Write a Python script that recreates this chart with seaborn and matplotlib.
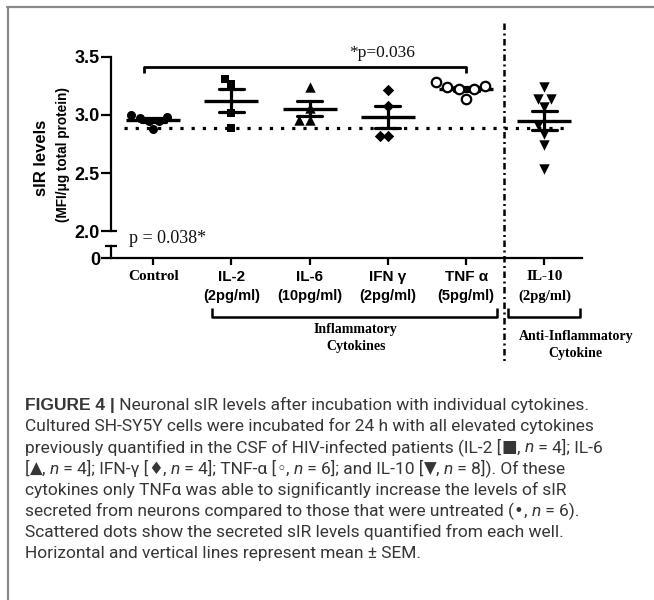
import re
import numpy as np
import pandas as pd
import matplotlib
matplotlib.use("Agg")
import matplotlib.pyplot as plt
import seaborn as sns
from matplotlib.lines import Line2D
from matplotlib.transforms import blended_transform_factory as blend

# ---------------- data ----------------
categories = ["Control", "IL-2", "IL-6", "IFN γ", "TNF α", "IL-10"]
doses = ["", "(2pg/ml)", "(10pg/ml)", "(2pg/ml)", "(5pg/ml)", "(2pg/ml)"]
control = [2.98, 3.00, 2.95, 2.88, 2.95, 2.97]
il2 = [3.31, 3.27, 3.02, 2.89]
il6 = [3.24, 3.06, 2.96, 2.96]
ifng = [3.21, 3.08, 2.82, 2.82]
tnfa = [3.25, 3.28, 3.24, 3.22, 3.14, 3.22]
il10 = [3.24, 3.14, 3.14, 3.07, 2.91, 2.84, 2.74, 2.54]
markers = ["o", "s", "^", "D", "o", "v"]
marker_sizes = [6.5, 5.6, 7.5, 5.8, 6.8, 7.5]
open_groups = ["TNF α"]
baseline = 2.89
yticks = [2.0, 2.5, 3.0, 3.5]
ytick_labels = ["2.0", "2.5", "3.0", "3.5"]
sig_text = "*p=0.036"
p_text = "p = 0.038*"
group_texts = ["Inflammatory\nCytokines", "Anti-Inflammatory\nCytokine"]
ylabel1 = "sIR levels"
ylabel2 = "(MFI/μg total protein)"
caption = [
    "**FIGURE 4 |** Neuronal sIR levels after incubation with individual cytokines.",
    "Cultured SH-SY5Y cells were incubated for 24 h with all elevated cytokines",
    "previously quantified in the CSF of HIV-infected patients (IL-2 [■, *n* = 4]; IL-6",
    "[▲, *n* = 4]; IFN-γ [♦, *n* = 4]; TNF-α [◦, *n* = 6]; and IL-10 [▼, *n* = 8]). Of these",
    "cytokines only TNFα was able to significantly increase the levels of sIR",
    "secreted from neurons compared to those that were untreated (•, *n* = 6).",
    "Scattered dots show the secreted sIR levels quantified from each well.",
    "Horizontal and vertical lines represent mean ± SEM.",
]

values = [control, il2, il6, ifng, tnfa, il10]
df = pd.DataFrame({
    "group": np.repeat(categories, [len(v) for v in values]),
    "value": np.concatenate(values),
})

# ---------------- layout helpers ----------------
sns.set_theme(style="ticks")
plt.rcParams["font.family"] = ["Liberation Sans", "DejaVu Sans"]
W, H = 654, 600
fig = plt.figure(figsize=(W / 100, H / 100), dpi=100)
fig.patch.set_facecolor("white")

def fx(px):
    return px / W

def fy(py):
    return 1 - py / H

AX_L, AX_R = 111, 582
ax = fig.add_axes([fx(AX_L), fy(231.5), fx(AX_R) - fx(AX_L), (231.5 - 56.7) / H])
axb = fig.add_axes([fx(AX_L), fy(258.3), fx(AX_R) - fx(AX_L), (258.3 - 246.5) / H])
for a in (ax, axb):
    a.set_facecolor("none")

XLIM = (-0.54, 5.48)

# ---------------- points ----------------
for cat, m, ms in zip(categories, markers, marker_sizes):
    sub = df[df["group"] == cat]
    is_open = cat in open_groups
    sns.swarmplot(data=sub, x="group", y="value", order=categories,
                  marker=m, size=ms,
                  color="white" if is_open else "black",
                  edgecolor="black", linewidth=1.6 if is_open else 0,
                  ax=ax, zorder=4 if is_open else 3)

# mean +- SEM
sns.pointplot(data=df, x="group", y="value", order=categories,
              errorbar="se", capsize=0.32, color="black",
              linestyle="none", marker="_", markersize=39,
              markeredgewidth=2.4, err_kws={"linewidth": 2.3},
              ax=ax, zorder=3.5)

ax.set_xlim(*XLIM)
ax.set_ylim(2.0, 3.5)
ax.set_xlabel("")
ax.set_ylabel("")
ax.set_yticks(yticks)
ax.set_yticklabels(ytick_labels)
ax.tick_params(axis="x", bottom=False, labelbottom=False)
ax.tick_params(axis="y", length=7, width=1.6, labelsize=13, pad=1, colors="black")
for lab in ax.get_yticklabels():
    lab.set_fontweight("bold")
for s in ("top", "right", "bottom"):
    ax.spines[s].set_visible(False)
ax.spines["left"].set_linewidth(1.6)
ax.spines["left"].set_color("black")

# cap at lower end of upper axis
tr_ax = blend(ax.transAxes, ax.transData)
ax.plot([0, 6 / (AX_R - AX_L)], [2.0, 2.0], transform=tr_ax, color="black",
        lw=1.6, clip_on=False, solid_capstyle="butt")

# dotted reference line
ax.plot([-0.38, 5.32], [baseline, baseline], color="black", lw=2.3,
        ls=(0, (1, 2.5)), zorder=2)

# significance bracket
ax.plot([-0.12, -0.12, 4.0, 4.0], [3.36, 3.41, 3.41, 3.36], color="black",
        lw=2.0, clip_on=False, solid_capstyle="butt")
ax.text(2.93, 3.535, sig_text, ha="center", va="center", fontsize=12.5,
        family=["Liberation Serif"], color="#111111")

# ---------------- bottom (broken) axis ----------------
axb.set_xlim(*XLIM)
axb.set_ylim(0, 1)
axb.set_yticks([0])
axb.set_yticklabels(["0"])
axb.set_xticks(range(len(categories)))
axb.set_xticklabels([])
axb.tick_params(axis="y", length=7, width=1.6, labelsize=13, pad=1, colors="black")
axb.tick_params(axis="x", length=5, width=1.6, colors="black")
for lab in axb.get_yticklabels():
    lab.set_fontweight("bold")
for s in ("top", "right"):
    axb.spines[s].set_visible(False)
for s in ("left", "bottom"):
    axb.spines[s].set_linewidth(1.6)
    axb.spines[s].set_color("black")
tr_b = blend(axb.transAxes, axb.transData)
axb.plot([-6 / (AX_R - AX_L), 6 / (AX_R - AX_L)], [1, 1], transform=tr_b,
         color="black", lw=1.6, clip_on=False, solid_capstyle="butt")

fig.text(fx(129), fy(238), p_text, ha="left", va="center", fontsize=13,
         family=["Liberation Serif"], color="#111111")

# ---------------- x labels ----------------
trx = blend(axb.transData, fig.transFigure)
serif_cats = {"Control", "IL-10"}
for i, (cat, dose) in enumerate(zip(categories, doses)):
    fam = ["Liberation Serif", "DejaVu Serif"] if cat in serif_cats else ["Liberation Sans", "DejaVu Sans"]
    axb.text(i, fy(277), cat, transform=trx, ha="center", va="center",
             fontsize=11, fontweight="bold", family=fam, color="black")
    if dose:
        axb.text(i, fy(296), dose, transform=trx, ha="center", va="center",
                 fontsize=10.5, fontweight="bold", family=fam, color="black")

# group brackets
for (x0, x1) in [(0.75, 4.39), (4.53, 5.45)]:
    axb.plot([x0, x0, x1, x1], [fy(308), fy(316.5), fy(316.5), fy(308)],
             transform=trx, color="black", lw=1.8, clip_on=False,
             solid_capstyle="butt")
axb.text(2.59, fy(338), group_texts[0], transform=trx, ha="center", va="center",
         fontsize=10, fontweight="bold", family=["Liberation Serif"],
         linespacing=1.35, color="black")
axb.text(5.40, fy(345), group_texts[1], transform=trx, ha="center", va="center",
         fontsize=10, fontweight="bold", family=["Liberation Serif"],
         linespacing=1.35, color="black")

# dash-dot separator
fig.add_artist(Line2D([4.48, 4.48], [fy(23), fy(362)], transform=trx,
                      color="black", lw=1.8, ls=(0, (2.6, 1.4, 0.8, 1.4))))

# y label
fig.text(fx(42), fy(158), ylabel1, rotation=90, ha="center", va="center",
         fontsize=12, fontweight="bold", color="black")
fig.text(fx(63), fy(155), ylabel2, rotation=90, ha="center", va="center",
         fontsize=9.8, fontweight="bold", color="black",
         family=["Liberation Sans", "DejaVu Sans"])

# ---------------- frame ----------------
fig.add_artist(Line2D([fx(8), fx(8)], [fy(7), 0], transform=fig.transFigure,
                      color="#8a8a8a", lw=1.6))
fig.add_artist(Line2D([fx(7.4), 1], [fy(7), fy(7)], transform=fig.transFigure,
                      color="#8a8a8a", lw=1.6))

# ---------------- caption ----------------
renderer = fig.canvas.get_renderer()
text_family = ["Roboto", "DejaVu Sans"]
bold_family = ["Liberation Sans", "DejaVu Sans"]
sym_family = ["DejaVu Sans"]
symbols = "■▲♦◦▼•"
cap_color = "#363636"

def parse(line):
    parts = []
    for tok in re.split(r"(\*\*.*?\*\*|\*[^*]+\*)", line):
        if not tok:
            continue
        if tok.startswith("**"):
            parts.append((tok[2:-2], "bold", "normal", bold_family))
        elif tok.startswith("*"):
            parts.append((tok[1:-1], "normal", "italic", text_family))
        else:
            for sub in re.split("([" + symbols + "])", tok):
                if not sub:
                    continue
                fam = sym_family if sub in symbols else text_family
                parts.append((sub, "normal", "normal", fam))
    return parts

def seg_width(s, size, weight, style, fam):
    kw = dict(fontsize=size, fontweight=weight, fontstyle=style, family=fam)
    t1 = fig.text(0, 0, "|" + s + "|", **kw)
    t2 = fig.text(0, 0, "||", **kw)
    w = t1.get_window_extent(renderer).width - t2.get_window_extent(renderer).width
    t1.remove()
    t2.remove()
    return w

def line_width(line, size):
    return sum(seg_width(s, size, w, st, f) for s, w, st, f in parse(line))

base = 10.0
target = 571.0
cap_size = base * target / line_width(caption[1], base)

for k, line in enumerate(caption):
    x = 25.0
    yb = 410 + 21.2 * k
    for s, w, st, f in parse(line):
        fs = cap_size * (0.95 if s in symbols else 1.0)
        fig.text(fx(x), fy(yb), s, ha="left", va="baseline", fontsize=fs,
                 fontweight=w, fontstyle=st, family=f, color=cap_color)
        x += seg_width(s, fs, w, st, f)

fig.savefig("out.png", dpi=100, facecolor="white")
